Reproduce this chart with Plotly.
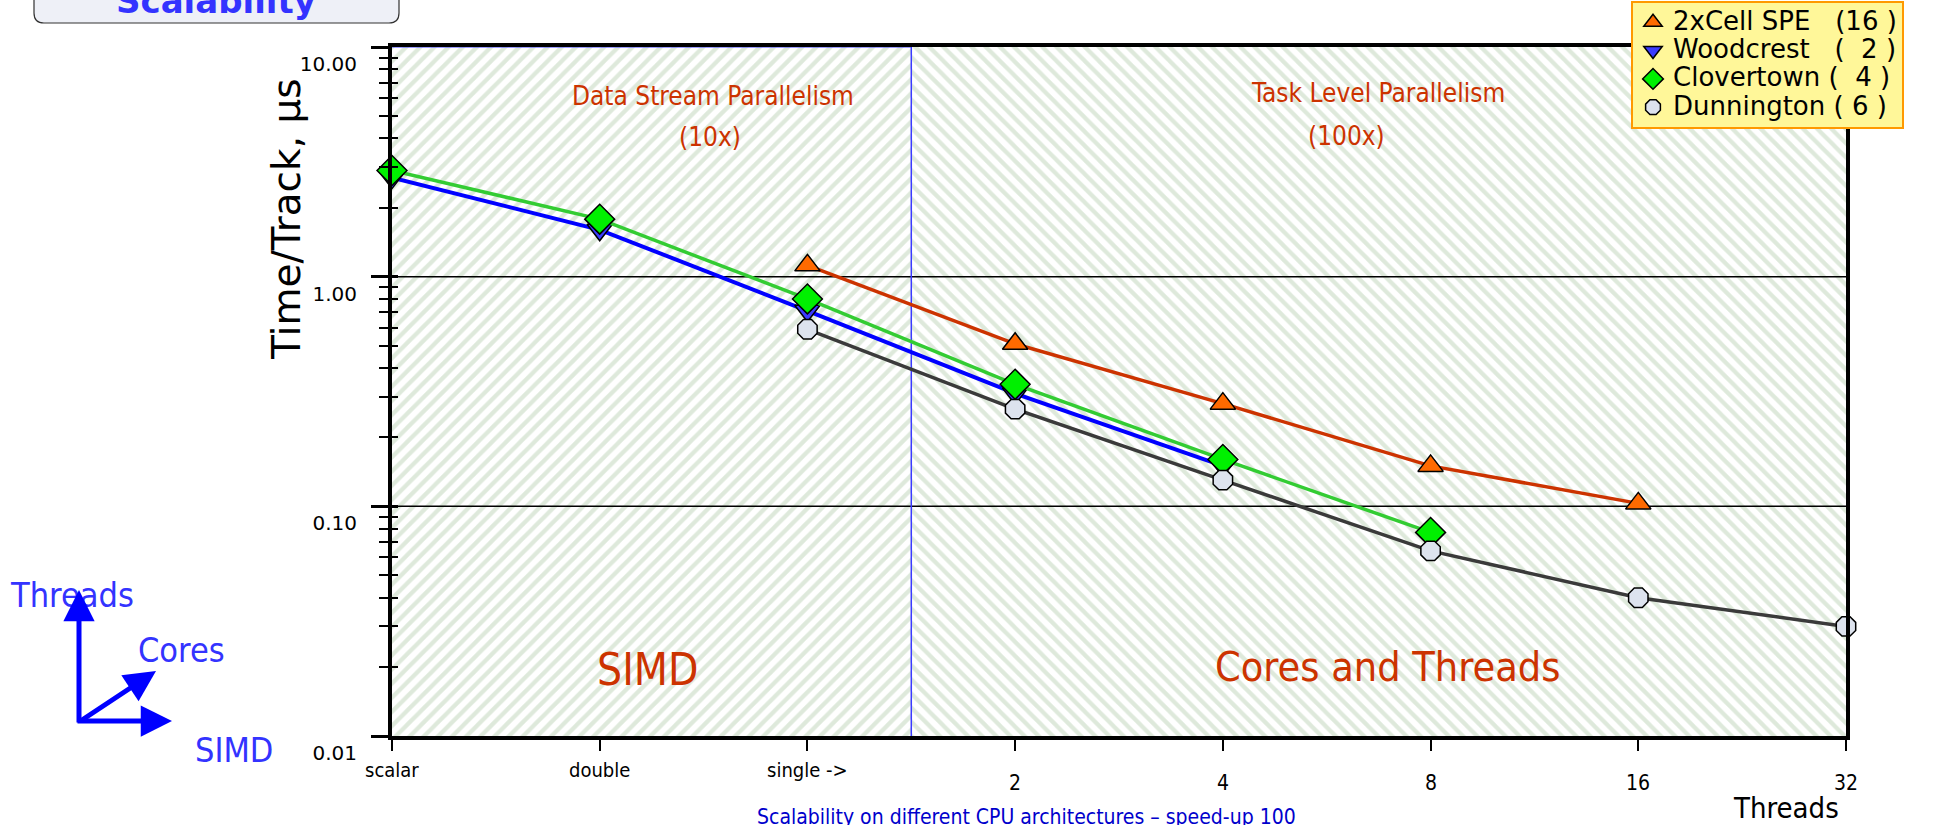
import plotly.graph_objects as go

# ---- data -------------------------------------------------------------
categories = ["scalar", "double", "single ->", "2", "4", "8", "16", "32"]
cell_spe = [None, None, 1.12, 0.51, 0.28, 0.15, 0.103, None]
woodcrest = [2.7, 1.6, 0.71, 0.31, 0.15, None, None, None]
clovertown = [2.9, 1.78, 0.80, 0.34, 0.16, 0.077, None, None]
dunnington = [None, None, 0.59, 0.265, 0.13, 0.064, 0.040, 0.030]

series_names = ["2xCell SPE   (16 )", "Woodcrest   (  2 )",
                "Clovertown (  4 )", "Dunnington ( 6 )"]

y_tick_vals = [0.01, 0.1, 1, 10]
y_tick_text = ["0.01", "0.10", "1.00", "10.00"]
grid_vals = [0.1, 1]
simd_split = 2.5  # SIMD width steps on the left, thread counts on the right

# ---- page geometry -----------------------------------------------------
W, H = 1933, 825
L, R, T, B = 392, 1846, 47, 736

def px(x):
    return (x - L) / (R - L)

def py(y):
    return (B - y) / (B - T)

SANS = "DejaVu Sans, sans-serif"
COND = "DejaVu Sans Condensed, DejaVu Sans, sans-serif"
RED = "#cc3300"
BLUE_TXT = "#3333ff"

xs = list(range(len(categories)))
x_max = len(categories) - 1
y_lo, y_hi = y_tick_vals[0], y_tick_vals[-1]
minor_vals = [m * 10.0 ** e for e in (-2, -1, 0) for m in range(2, 10)]

fig = go.Figure()

# hatched background regions
hatch = dict(size=10, solidity=0.42, fgcolor="#bdd3b8", bgcolor="white")
fig.add_trace(go.Scatter(
    x=[0, simd_split, simd_split, 0, 0], y=[y_lo, y_lo, y_hi, y_hi, y_lo],
    fill="toself", mode="lines", line=dict(width=0),
    fillpattern=dict(shape="/", **hatch),
    hoverinfo="skip", showlegend=False))
fig.add_trace(go.Scatter(
    x=[simd_split, x_max, x_max, simd_split, simd_split],
    y=[y_lo, y_lo, y_hi, y_hi, y_lo],
    fill="toself", mode="lines", line=dict(width=0),
    fillpattern=dict(shape="\\", **hatch),
    hoverinfo="skip", showlegend=False))

# decade grid lines and the SIMD / threads divider
for g in grid_vals:
    fig.add_trace(go.Scatter(x=[0, x_max], y=[g, g], mode="lines",
                             line=dict(color="black", width=1.5),
                             hoverinfo="skip", showlegend=False))
fig.add_trace(go.Scatter(x=[simd_split, simd_split], y=[y_lo, y_hi], mode="lines",
                         line=dict(color="#3a3aff", width=1.5),
                         hoverinfo="skip", showlegend=False))
fig.add_trace(go.Scatter(x=[0, simd_split], y=[y_hi, y_hi], mode="lines",
                         line=dict(color="#3a3aff", width=1),
                         hoverinfo="skip", showlegend=False, cliponaxis=False))

styles = [
    (cell_spe, "#cc3300", 3.5, "triangle-up", 22, "#ff6a00"),
    (woodcrest, "#0000ff", 4, "triangle-down", 22, "#3b3bff"),
    (clovertown, "#33cc33", 3.5, "diamond", 23, "#00f000"),
    (dunnington, "#3a3a3a", 3.5, "octagon", 21, "#dde3ee"),
]

def legend_label(name):
    return ('<span style="font-size:26px">' + name.replace(" ", "\u00a0") + "</span>")

for (vals, lc, lw, sym, sz, mc), name in zip(styles, series_names):
    fig.add_trace(go.Scatter(
        x=xs, y=vals, mode="lines+markers", connectgaps=False,
        line=dict(color=lc, width=lw),
        marker=dict(symbol=sym, size=sz, color=mc,
                    line=dict(color="black", width=1.5)),
        cliponaxis=False, showlegend=False, name=name))

# legend entries (markers only)
for (vals, lc, lw, sym, sz, mc), name in zip(styles, series_names):
    fig.add_trace(go.Scatter(
        x=[None], y=[None], mode="markers",
        marker=dict(symbol=sym, size=sz, color=mc,
                    line=dict(color="black", width=1.5)),
        name=legend_label(name), showlegend=True))

# empty trace that carries the inner tick marks of the y axis
fig.add_trace(go.Scatter(x=[None], y=[None], yaxis="y2", showlegend=False,
                         hoverinfo="skip"))

ann = []

# category labels under the x axis
for i, lab in enumerate(categories):
    numeric = lab.isdigit()
    ann.append(dict(x=i, xref="x", y=0, yref="paper", text=lab,
                    yshift=-47 if numeric else -34,
                    font=dict(size=21 if numeric else 20, color="black")))

ann += [
    dict(x=px(1786), y=py(808), text="Threads", font=dict(size=29, color="black")),
    dict(x=px(287), y=py(219), text="Time/Track, \u00b5s", textangle=-90,
         font=dict(family=SANS, size=39, color="black")),
    dict(x=px(713), y=py(96), text="Data Stream Parallelism", font=dict(size=26, color=RED)),
    dict(x=px(710), y=py(137), text="(10x)", font=dict(size=26, color=RED)),
    dict(x=px(1378), y=py(93), text="Task Level Parallelism", font=dict(size=26, color=RED)),
    dict(x=px(1346), y=py(136), text="(100x)", font=dict(size=26, color=RED)),
    dict(x=px(647), y=py(669), text="SIMD", font=dict(size=44, color=RED)),
    dict(x=px(1387), y=py(667), text="Cores and Threads", font=dict(size=41, color=RED)),
    dict(x=px(72), y=py(595), text="Threads", font=dict(size=34, color=BLUE_TXT)),
    dict(x=px(181), y=py(650), text="Cores", font=dict(size=34, color=BLUE_TXT)),
    dict(x=px(234), y=py(750), text="SIMD", font=dict(size=34, color=BLUE_TXT)),
    dict(x=px(216), y=py(1), text="<b>Scalability</b>",
         font=dict(family=SANS, size=34, color=BLUE_TXT)),
    dict(x=px(755), y=py(803), xanchor="left", yanchor="top",
         text="Scalability on different CPU architectures \u2013 speed-up 100",
         font=dict(size=21, color="#0000cc")),
]
for a in ann:
    a.setdefault("xref", "paper")
    a.setdefault("yref", "paper")
    a.setdefault("showarrow", False)
    a.setdefault("xanchor", "center")
    a.setdefault("yanchor", "middle")
    f = a.setdefault("font", {})
    f.setdefault("family", COND)

# axis-direction arrows
for (hx, hy, tx, ty) in [(79, 590, 79, 724), (172, 721, 76, 721), (156, 671, 79, 722)]:
    ann.append(dict(x=px(hx), y=py(hy), xref="paper", yref="paper", text="",
                    showarrow=True, axref="pixel", ayref="pixel",
                    ax=tx - hx, ay=ty - hy,
                    arrowhead=2, arrowsize=1.25, arrowwidth=5, arrowcolor="#0000ff"))

# rounded title box at the top-left
bx0, bx1, by0, by1, r = 34, 399, -30, 23, 10
path = (f"M {px(bx0)},{py(by0)} L {px(bx0)},{py(by1 - r)} "
        f"Q {px(bx0)},{py(by1)} {px(bx0 + r)},{py(by1)} "
        f"L {px(bx1 - r)},{py(by1)} Q {px(bx1)},{py(by1)} {px(bx1)},{py(by1 - r)} "
        f"L {px(bx1)},{py(by0)} Z")

fig.update_layout(
    width=W, height=H,
    margin=dict(l=L, r=W - R, t=T, b=H - B, autoexpand=False),
    paper_bgcolor="white", plot_bgcolor="white",
    font=dict(family=COND, color="black"),
    annotations=ann,
    shapes=[dict(type="path", path=path, xref="paper", yref="paper",
                 line=dict(color="#333333", width=1.2), fillcolor="#eef0f7",
                 layer="below")],
    showlegend=True,
    legend=dict(x=px(1631), y=py(1), xanchor="left", yanchor="top",
                bgcolor="#fff799", bordercolor="#ff9900", borderwidth=2,
                font=dict(family=SANS, size=19.5, color="black"),
                itemsizing="trace", tracegroupgap=0),
    xaxis=dict(range=[0, x_max], tickvals=xs, showticklabels=False,
               ticks="outside", ticklen=11, tickwidth=2, tickcolor="black",
               showline=True, linewidth=4, linecolor="black", mirror=True,
               showgrid=False, zeroline=False, fixedrange=True),
    yaxis=dict(type="log", range=[-2, 1], tickvals=y_tick_vals, ticktext=y_tick_text,
               ticks="outside", ticklen=17, tickwidth=2.5, tickcolor="black",
               ticklabelshift=17, ticklabelstandoff=10,
               tickfont=dict(family=SANS, size=20, color="black"),
               minor=dict(ticks="outside", ticklen=9, tickwidth=2, tickcolor="black",
                          tickvals=minor_vals, showgrid=False),
               showline=True, linewidth=4, linecolor="black", mirror=True,
               showgrid=False, zeroline=False, fixedrange=True),
    yaxis2=dict(type="log", range=[-2, 1], overlaying="y", side="left",
                tickvals=y_tick_vals, showticklabels=False,
                ticks="inside", ticklen=6, tickwidth=2.5, tickcolor="black",
                minor=dict(ticks="inside", ticklen=6, tickwidth=2, tickcolor="black",
                           tickvals=minor_vals, showgrid=False),
                showline=False, showgrid=False, zeroline=False, fixedrange=True),
)

fig.write_html("out.html")
